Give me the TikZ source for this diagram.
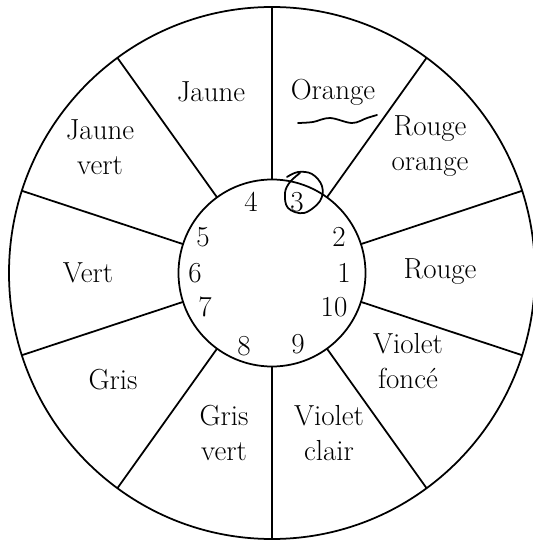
\documentclass[tikz,border=0pt]{standalone}
\begin{document}
\begin{tikzpicture}[x=0.02cm,y=0.02cm,line width=1pt,
  couleur/.style={align=center,font=\fontsize{16.5}{20}\selectfont,inner sep=0pt},
  chiffre/.style={font=\fontsize{16.5}{18}\selectfont,inner sep=0pt},
  main/.style={line width=1pt,line cap=round,line join=round}]

\useasboundingbox (-272,-268) rectangle (260,273);

% Roue
\draw (0,0) ellipse (263 and 266);
\draw (0,0) circle (93.5);

\foreach \a in {18,54,...,342}
{
\draw (\a:93.5) -- (\a:263 and 266);
}

% Couleurs
\node[couleur] (orange) at (61,181) {Orange};
\node[couleur] (jaune) at (-61,181) {Jaune};
\node[couleur] (rougeor) at (158,127) {Rouge\\orange};
\node[couleur] (rouge) at (168,1) {Rouge};
\node[couleur] (violetf) at (136,-88) {Violet\\foncé};
\node[couleur] (violetc) at (57,-160) {Violet\\clair};
\node[couleur] (grisv) at (-48,-160) {Gris\\vert};
\node[couleur] (gris) at (-159,-107) {Gris};
\node[couleur] (vert) at (-184,0) {Vert};
\node[couleur] (jaunev) at (-172,126) {Jaune\\vert};

% Chiffres
\foreach \i/\x/\y in {
1/72/0, 2/67/36, 3/25/71, 4/-21/71, 5/-69/36,
6/-77/0, 7/-67/-34, 8/-28/-73, 9/26/-71, 10/62/-34
}
{
\node[chiffre] (n\i) at (\x,\y) {\i};
}

% Annotations a la main
\draw[main] plot[smooth,tension=0.6] coordinates {
(15,96) (26,101) (40,99) (50,87) (48,72) (32,60) (16,65) (13,80) (18,91) (28,100)
};
\draw[main] plot[smooth,tension=0.6] coordinates {
(26,150) (41,151) (58,155) (80,150) (95,155) (105,158)
};

\end{tikzpicture}
\end{document}
